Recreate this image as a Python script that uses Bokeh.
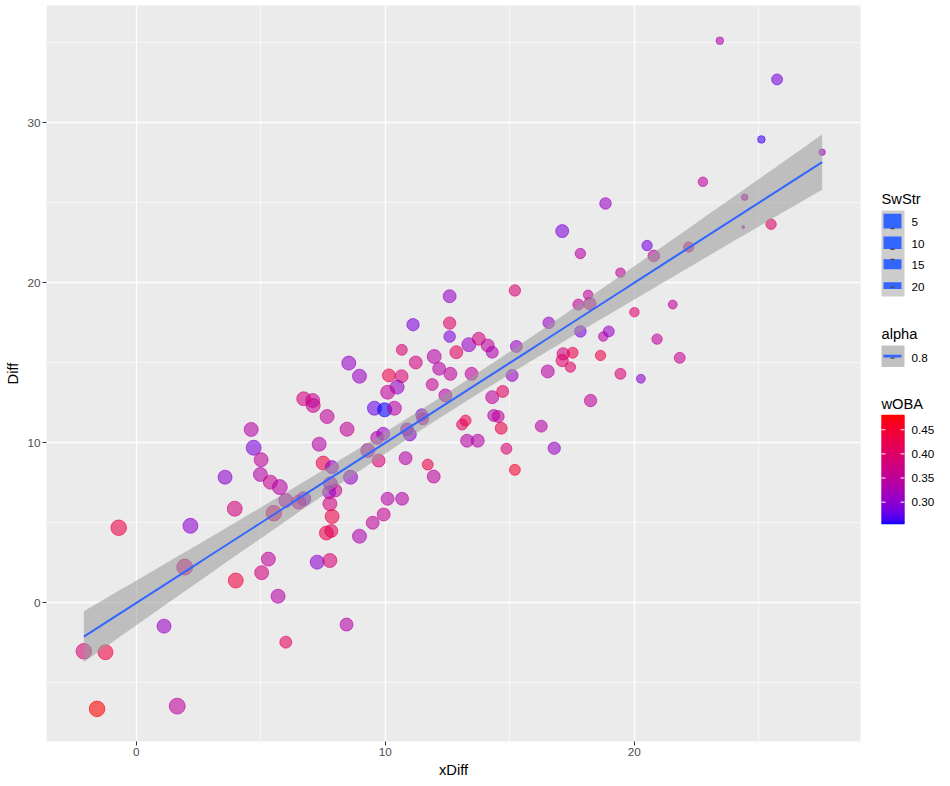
import numpy as np
from bokeh.plotting import figure
from bokeh.models import ColumnDataSource, FixedTicker, Range1d
from bokeh.layouts import row
from bokeh.core.properties import value
from bokeh.embed import file_html
from bokeh.resources import INLINE

# ---- data ----
xdiff = [-2.10, -1.23, -1.57, 1.65, 1.12, -0.70, 2.18, 1.95, 3.57, 3.96,
         4.62, 4.72, 5.02, 4.99, 5.39, 5.77, 6.01, 6.73, 6.53, 5.53,
         5.31, 5.04, 4.00, 5.70, 6.01, 8.45, 7.27, 7.78, 6.73, 7.09,
         7.11, 7.67, 7.35, 7.51, 7.86, 7.80, 8.00, 7.75, 7.78, 7.87,
         7.64, 7.84, 8.54, 8.97, 10.15, 10.66, 10.48, 10.10, 9.57, 9.98,
         10.37, 8.47, 9.92, 9.68, 9.30, 9.74, 8.61, 10.10, 10.68, 9.94,
         9.50, 8.97, 10.82, 11.71, 11.95, 12.59, 15.21, 11.12, 12.59, 12.59,
         13.36, 13.76, 14.12, 14.30, 12.86, 10.67, 11.23, 11.97, 12.17, 12.62,
         13.47, 11.89, 12.42, 11.47, 11.51, 10.88, 10.99, 13.23, 13.09, 13.29,
         13.72, 14.30, 14.72, 14.36, 14.54, 14.66, 14.87, 15.21, 15.10, 15.27,
         16.53, 16.57, 17.15, 17.53, 17.11, 17.44, 16.27, 16.79, 17.76, 18.22,
         18.15, 17.84, 18.76, 18.98, 18.65, 19.45, 20.27, 18.25, 20.92, 21.83,
         20.01, 21.55, 19.45, 17.84, 20.79, 20.52, 22.19, 17.11, 18.85, 22.76,
         24.44, 24.38, 25.50, 25.11, 25.74, 23.44, 27.55]

diff = [-3.03, -3.09, -6.63, -6.46, -1.46, 4.69, 4.81, 2.23, 7.85, 5.88,
        10.83, 9.69, 8.94, 8.02, 7.54, 7.23, 6.39, 6.50, 6.29, 5.60,
        2.73, 1.88, 1.39, 0.41, -2.46, -1.36, 2.54, 2.64, 12.75, 12.64,
        12.33, 11.64, 9.91, 8.73, 8.48, 7.44, 7.02, 6.91, 6.19, 5.39,
        4.36, 4.49, 14.98, 14.16, 14.21, 14.16, 13.48, 13.16, 12.16, 12.06,
        12.16, 10.85, 10.56, 10.31, 9.52, 8.89, 7.85, 6.50, 6.50, 5.52,
        5.00, 4.16, 9.04, 8.64, 7.89, 19.16, 19.52, 17.38, 17.48, 16.64,
        16.13, 16.50, 16.08, 15.66, 15.66, 15.81, 15.02, 15.39, 14.63, 14.31,
        14.31, 13.64, 12.96, 11.75, 11.50, 10.83, 10.52, 11.39, 11.14, 10.13,
        10.13, 12.85, 13.21, 11.71, 11.64, 10.91, 9.63, 8.31, 14.21, 16.02,
        14.46, 17.50, 15.56, 15.63, 15.14, 14.73, 11.04, 9.66, 18.64, 18.69,
        19.25, 16.96, 16.64, 16.96, 15.46, 14.31, 14.00, 12.64, 16.48, 15.31,
        18.16, 18.64, 20.63, 21.83, 21.68, 22.33, 22.23, 23.23, 24.96, 26.31,
        25.35, 23.48, 23.66, 28.96, 32.71, 35.13, 28.16]

swstr = [7.3, 8.6, 7.3, 6.4, 10.6, 7.3, 8.6, 6.4, 10.6, 8.6,
         10.6, 8.6, 10.6, 10.6, 10.6, 8.6, 10.6, 10.6, 10.6, 7.3,
         10.6, 10.6, 8.6, 10.6, 14.4, 12.6, 10.6, 10.6, 10.6, 10.6,
         10.6, 10.6, 10.6, 10.6, 12.6, 10.6, 12.6, 12.6, 10.6, 10.6,
         10.6, 12.6, 10.6, 10.6, 12.6, 12.6, 10.6, 10.6, 10.6, 10.6,
         10.6, 10.6, 12.6, 12.6, 10.6, 12.6, 10.6, 12.6, 12.6, 12.6,
         12.6, 10.6, 12.6, 16.0, 12.6, 12.6, 15.3, 13.7, 13.7, 15.0,
         10.6, 12.6, 12.6, 14.4, 12.6, 16.0, 12.6, 10.6, 12.6, 12.6,
         12.6, 14.4, 12.6, 14.4, 14.4, 12.6, 12.6, 16.0, 16.0, 12.6,
         12.6, 12.6, 14.4, 14.4, 14.4, 14.4, 16.0, 16.0, 14.4, 14.4,
         12.6, 15.0, 13.7, 16.0, 13.7, 16.9, 14.4, 13.7, 16.0, 13.7,
         18.1, 15.0, 18.1, 16.0, 16.9, 16.0, 18.9, 13.7, 16.9, 16.0,
         18.1, 18.9, 18.1, 16.9, 15.0, 16.9, 16.9, 12.6, 15.0, 18.1,
         21.7, 24.0, 16.9, 20.5, 16.0, 20.5, 21.7]

woba = [0.39, 0.44, 0.479, 0.35, 0.31, 0.43, 0.30, 0.38, 0.30, 0.38,
        0.34, 0.29, 0.35, 0.34, 0.36, 0.34, 0.34, 0.30, 0.36, 0.39,
        0.35, 0.38, 0.44, 0.34, 0.41, 0.34, 0.30, 0.39, 0.38, 0.36,
        0.36, 0.35, 0.34, 0.43, 0.31, 0.33, 0.36, 0.31, 0.38, 0.43,
        0.43, 0.41, 0.31, 0.31, 0.43, 0.39, 0.31, 0.35, 0.28, 0.256,
        0.34, 0.35, 0.31, 0.33, 0.34, 0.39, 0.31, 0.34, 0.34, 0.36,
        0.35, 0.33, 0.34, 0.43, 0.35, 0.31, 0.39, 0.29, 0.40, 0.29,
        0.31, 0.38, 0.35, 0.33, 0.41, 0.39, 0.38, 0.34, 0.34, 0.35,
        0.35, 0.36, 0.34, 0.29, 0.34, 0.31, 0.30, 0.43, 0.41, 0.34,
        0.34, 0.35, 0.41, 0.34, 0.35, 0.43, 0.39, 0.455, 0.31, 0.31,
        0.34, 0.31, 0.38, 0.43, 0.40, 0.40, 0.34, 0.31, 0.35, 0.36,
        0.35, 0.29, 0.34, 0.31, 0.43, 0.39, 0.30, 0.35, 0.35, 0.36,
        0.40, 0.35, 0.35, 0.34, 0.35, 0.285, 0.38, 0.29, 0.31, 0.35,
        0.34, 0.33, 0.40, 0.265, 0.285, 0.33, 0.31]

swstr_breaks = [5, 10, 15, 20]
woba_breaks = [0.30, 0.35, 0.40, 0.45]
alpha_level = 0.8
x_major = [0, 10, 20]
x_minor = [-5, 5, 15, 25]
y_major = [0, 10, 20, 30]
y_minor = [-5, 5, 15, 25, 35]

FONT = "Liberation Sans"
PT_ALPHA = 0.58
H = 784


# ---- colour scale: blue -> red interpolated in CIELAB, like ggplot ----
M = np.array([[0.4124, 0.3576, 0.1805], [0.2126, 0.7152, 0.0722], [0.0193, 0.1192, 0.9505]])
MINV = np.linalg.inv(M)
WHITE = np.array([0.95047, 1.0, 1.08883])


def hex_to_lab(h):
    c = np.array([int(h[i:i + 2], 16) for i in (1, 3, 5)]) / 255.0
    lin = np.where(c <= 0.04045, c / 12.92, ((c + 0.055) / 1.055) ** 2.4)
    xyz = M @ lin / WHITE
    f = np.where(xyz > (6 / 29) ** 3, np.cbrt(xyz), xyz / (3 * (6 / 29) ** 2) + 4 / 29)
    return np.array([116 * f[1] - 16, 500 * (f[0] - f[1]), 200 * (f[1] - f[2])])


def lab_to_hex(lab):
    fy = (lab[0] + 16) / 116
    f = np.array([fy + lab[1] / 500, fy, fy - lab[2] / 200])
    xyz = np.where(f > 6 / 29, f ** 3, 3 * (6 / 29) ** 2 * (f - 4 / 29)) * WHITE
    lin = np.clip(MINV @ xyz, 0, 1)
    c = np.where(lin <= 0.0031308, 12.92 * lin, 1.055 * lin ** (1 / 2.4) - 0.055)
    r, g, b = (np.clip(c, 0, 1) * 255).round().astype(int)
    return "#%02x%02x%02x" % (r, g, b)


LAB_LO, LAB_HI = hex_to_lab("#0000FF"), hex_to_lab("#FF0000")
w_lo, w_hi = min(woba), max(woba)


def woba_color(v):
    t = (v - w_lo) / (w_hi - w_lo)
    return lab_to_hex(LAB_LO + (LAB_HI - LAB_LO) * t)


def point_size(s):
    # area scale, reversed: low SwStr -> big point
    return float(np.sqrt(9 + 280 * (24 - s) / 20))


src = ColumnDataSource(dict(
    x=xdiff, y=diff,
    size=[point_size(s) for s in swstr],
    color=[woba_color(w) for w in woba],
))

# ---- linear fit with 95% band ----
xa, ya = np.array(xdiff), np.array(diff)
n = len(xa)
slope, icpt = np.polyfit(xa, ya, 1)
resid = ya - (icpt + slope * xa)
s_err = np.sqrt(np.sum(resid ** 2) / (n - 2))
sxx = np.sum((xa - xa.mean()) ** 2)
z = 1.959964
df = n - 2
tq = z + (z ** 3 + z) / (4 * df) + (5 * z ** 5 + 16 * z ** 3 + 3 * z) / (96 * df ** 2)
xs = np.linspace(xa.min(), xa.max(), 80)
yhat = icpt + slope * xs
half = tq * s_err * np.sqrt(1 / n + (xs - xa.mean()) ** 2 / sxx)

# ---- main panel ----
p = figure(width=862, height=H, x_range=(-3.60, 29.09), y_range=(-8.67, 37.33),
           output_backend="svg", toolbar_location=None,
           min_border_left=46, min_border_right=2, min_border_top=5, min_border_bottom=H - 741)
p.background_fill_color = "#EBEBEB"
p.border_fill_color = "white"
p.outline_line_color = None

p.xaxis.ticker = FixedTicker(ticks=x_major, minor_ticks=x_minor)
p.yaxis.ticker = FixedTicker(ticks=y_major, minor_ticks=y_minor)
p.grid.grid_line_color = "white"
p.grid.grid_line_width = 1.3
p.grid.minor_grid_line_color = "white"
p.grid.minor_grid_line_width = 0.6

p.xaxis.axis_label = "xDiff"
p.yaxis.axis_label = "Diff"
for ax in (p.xaxis, p.yaxis):
    ax.axis_line_color = None
    ax.major_tick_line_color = "#333333"
    ax.major_tick_out = 4
    ax.major_tick_in = 0
    ax.minor_tick_line_color = None
    ax.major_label_text_font = FONT
    ax.major_label_text_font_size = "11.7px"
    ax.major_label_text_color = "#4D4D4D"
    ax.major_label_standoff = 2
    ax.axis_label_text_font = FONT
    ax.axis_label_text_font_size = "14.7px"
    ax.axis_label_text_font_style = "normal"
    ax.axis_label_text_color = "black"
    ax.axis_label_standoff = 3

p.scatter("x", "y", size="size", source=src, fill_color="color", line_color="color",
          fill_alpha=PT_ALPHA, line_alpha=PT_ALPHA, line_width=1)
p.varea(x=xs, y1=yhat - half, y2=yhat + half, fill_color="#999999", fill_alpha=0.55)
p.line(xs, yhat, line_color="#3366FF", line_width=2)

# ---- legend panel (page pixel coordinates) ----
lg = figure(width=86, height=H, x_range=Range1d(862, 948), y_range=Range1d(H, 0),
            output_backend="svg", toolbar_location=None, x_axis_location=None,
            y_axis_location=None, min_border=0)
lg.grid.visible = False
lg.outline_line_color = None
lg.background_fill_color = "white"


def legend_text(xv, yv, labels, size):
    lg.text(x=xv, y=yv, text=labels, text_font=value(FONT), text_font_size=size,
            text_baseline="middle", text_align="left", text_color="black")


# SwStr
legend_text([881], [206], ["SwStr"], "14.7px")
key_h = 22.9
key_top = 218.3
cy = [key_top + key_h * (i + 0.5) for i in range(len(swstr_breaks))]
lg.quad(left=881, right=904, top=key_top, bottom=key_top + key_h * len(swstr_breaks),
        fill_color="#CDCDCD", line_color=None)
hts = [point_size(s) - 1 for s in swstr_breaks]
lg.rect(x=892, y=cy, width=18, height=hts, fill_color="#3366FF", line_color=None)
dash_y = [cy[0] + 8, cy[1] + 7, cy[2] - 5, cy[3] + 1.5]
lg.rect(x=892, y=dash_y, width=4, height=1.4, fill_color="#4a4a4a", line_color=None)
legend_text([911] * 4, [c + 1 for c in cy], [str(b) for b in swstr_breaks], "11.7px")

# alpha
legend_text([881], [350], ["alpha"], "14.7px")
lg.quad(left=881, right=904, top=362.3, bottom=385, fill_color="#C1C1C1", line_color=None)
lg.rect(x=892, y=373.5, width=18, height=2.7, fill_color="#3366FF", line_color=None)
lg.rect(x=892, y=375.7, width=4, height=1.4, fill_color="#4a4a4a", line_color=None)
legend_text([911], [375.7], [str(alpha_level)], "11.7px")

# wOBA colourbar, drawn as overlapping thin bands
legend_text([881], [424], ["wOBA"], "14.7px")
cb_top, cb_bot = 437.0, 551.7


def cb_y(v):
    return cb_bot - (v - w_lo) / (w_hi - w_lo) * (cb_bot - cb_top)


steps = np.linspace(w_lo, w_hi, 116)
sy = [cb_y(v) for v in steps]
lg.segment(x0=881, x1=904, y0=sy, y1=sy, line_color=[woba_color(v) for v in steps],
           line_width=1.8)
ty = [cb_y(v) for v in woba_breaks]
lg.segment(x0=881, x1=885, y0=ty, y1=ty, line_color="white", line_width=1)
lg.segment(x0=900, x1=904, y0=ty, y1=ty, line_color="white", line_width=1)
legend_text([911] * 4, ty, ["%.2f" % v for v in woba_breaks], "11.7px")

layout = row(p, lg)
open("out.html", "w").write(file_html(layout, INLINE))
